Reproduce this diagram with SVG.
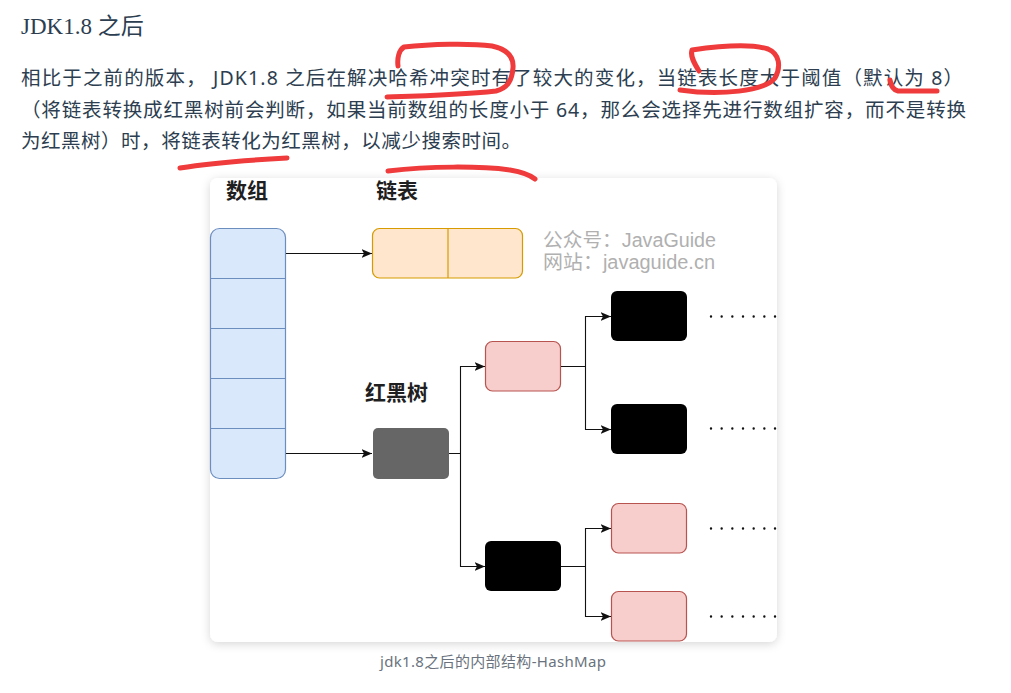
<svg xmlns="http://www.w3.org/2000/svg" width="1011" height="693" viewBox="0 0 1011 693">
  <style>
    .txt { font-family: "Noto Sans", "Noto Sans CJK SC", sans-serif; fill: #2c3e50; font-size: 19.5px; }
    .title { font-family: "Liberation Serif", "Noto Sans CJK SC", serif; fill: #2c3e50; font-size: 23px; }
    .lbl { font-family: "Liberation Sans", "Noto Sans CJK SC", sans-serif; font-weight: bold; font-size: 21px; fill: #1f1f1f; }
    .wm { font-family: "Liberation Sans", "Noto Sans CJK SC", sans-serif; font-size: 19.5px; fill: #b0b0b0; }
    .cap { font-family: "Noto Sans", "Noto Sans CJK SC", sans-serif; font-size: 15px; fill: #6a737d; }
    .arr { fill: #dae8fc; stroke: #6c8ebf; stroke-width: 1.2; }
    .lst { fill: #ffe6cc; stroke: #d79b00; stroke-width: 1.2; }
    .red { fill: #f8cecc; stroke: #b85450; stroke-width: 1.2; }
    .blk { fill: #000000; }
    .edge { fill: none; stroke: #111; stroke-width: 1.1; marker-end: url(#tip); }
    .dots { fill: none; stroke: #111; stroke-width: 2.4; stroke-linecap: round; stroke-dasharray: 0 10.67; }
    .mark { fill: none; stroke: #ef3b3b; stroke-width: 5; stroke-linecap: round; stroke-linejoin: round; }
  </style>
  <defs>
    <marker id="tip" markerUnits="userSpaceOnUse" markerWidth="12" markerHeight="10" refX="10.5" refY="4.5" orient="auto">
      <path d="M0,0 L10.5,4.5 L0,9 L2.5,4.5 Z" fill="#111"/>
    </marker>
    <filter id="shadow" x="-10%" y="-10%" width="120%" height="120%">
      <feDropShadow dx="0" dy="2" stdDeviation="5" flood-color="#000" flood-opacity="0.16"/>
    </filter>
  </defs>

  <rect width="1011" height="693" fill="#ffffff"/>

  <!-- heading and paragraph -->
  <text class="title" x="21" y="34">JDK1.8 之后</text>
  <text class="txt" x="21" y="84.5" textLength="942" lengthAdjust="spacing">相比于之前的版本， JDK1.8 之后在解决哈希冲突时有了较大的变化，当链表长度大于阈值（默认为 8）</text>
  <text class="txt" x="21" y="117" textLength="945" lengthAdjust="spacing">（将链表转换成红黑树前会判断，如果当前数组的长度小于 64，那么会选择先进行数组扩容，而不是转换</text>
  <text class="txt" x="21" y="148" textLength="500" lengthAdjust="spacing">为红黑树）时，将链表转化为红黑树，以减少搜索时间。</text>

  <!-- figure card -->
  <rect x="210" y="178" width="567" height="464" rx="8" fill="#ffffff" filter="url(#shadow)"/>

  <g id="labels">
    <text class="lbl" x="226" y="198">数组</text>
    <text class="lbl" x="376" y="198">链表</text>
    <text class="lbl" x="365" y="400">红黑树</text>
  </g>

  <g id="watermark">
    <text class="wm" x="543" y="247" textLength="173" lengthAdjust="spacingAndGlyphs">公众号：JavaGuide</text>
    <text class="wm" x="543" y="269" textLength="172" lengthAdjust="spacingAndGlyphs">网站：javaguide.cn</text>
  </g>

  <g id="array">
    <rect class="arr" x="210.5" y="228.5" width="75" height="250" rx="9"/>
    <path d="M210.5,278.5 H285.5 M210.5,328.5 H285.5 M210.5,378.5 H285.5 M210.5,428.5 H285.5" stroke="#6c8ebf" stroke-width="1.2"/>
  </g>

  <g id="linked-list">
    <rect class="lst" x="372.5" y="228.5" width="150" height="49.5" rx="7"/>
    <path d="M448,228.5 V278" stroke="#d79b00" stroke-width="1.2"/>
  </g>

  <g id="tree-root">
    <rect x="373" y="428" width="76" height="51" rx="5" fill="#666666"/>
  </g>
  <g id="node-red-1">
    <rect class="red" x="485.5" y="341.5" width="75" height="49.5" rx="7"/>
  </g>
  <g id="node-black-1">
    <rect class="blk" x="611" y="291" width="76" height="50" rx="6"/>
  </g>
  <g id="node-black-2">
    <rect class="blk" x="611" y="404" width="76" height="50" rx="6"/>
  </g>
  <g id="node-black-3">
    <rect class="blk" x="485" y="541" width="76" height="50" rx="6"/>
  </g>
  <g id="node-red-2">
    <rect class="red" x="611.5" y="503.5" width="75" height="49.5" rx="7"/>
  </g>
  <g id="node-red-3">
    <rect class="red" x="611.5" y="591.5" width="75" height="49.5" rx="7"/>
  </g>

  <g id="connectors">
    <path class="edge" d="M286,253.5 H372"/>
    <path class="edge" d="M286,453.5 H372"/>
    <path class="edge" d="M449,453.5 H460.5 V366.5 H485"/>
    <path class="edge" d="M460.5,453.5 V566.5 H485"/>
    <path class="edge" d="M561,366.5 H585.5 V316.5 H611"/>
    <path class="edge" d="M585.5,366.5 V429.5 H611"/>
    <path class="edge" d="M561,566.5 H585.5 V528.5 H611"/>
    <path class="edge" d="M585.5,566.5 V616.5 H611"/>
  </g>

  <g id="ellipses">
    <path class="dots" d="M711,316.5 H776"/>
    <path class="dots" d="M711,428.5 H776"/>
    <path class="dots" d="M711,528.5 H776"/>
    <path class="dots" d="M711,616.5 H776"/>
  </g>

  <text class="cap" x="493" y="667" text-anchor="middle" textLength="226" lengthAdjust="spacing">jdk1.8之后的内部结构-HashMap</text>

  <!-- hand-drawn highlight strokes -->
  <g id="highlights">
    <path class="mark" d="M398,66 C397,58 399,50 404,47 C430,44 470,43 492,46 C506,49 514,56 513,68 C512,80 508,88 496,91 C460,95 420,96 387,97"/>
    <path class="mark" d="M699,71 C694,63 690,56 692,50 C720,46 752,44 768,49 C780,54 781,67 775,78 C765,91 720,96 680,90"/>
    <path class="mark" d="M890,80 C891,86 893,90 898,91 L937,91"/>
    <path class="mark" d="M180,168 C210,163 250,160 287,158"/>
    <path class="mark" d="M388,171 C430,166 480,166 510,170 C522,172 530,175 535,179"/>
  </g>
</svg>
